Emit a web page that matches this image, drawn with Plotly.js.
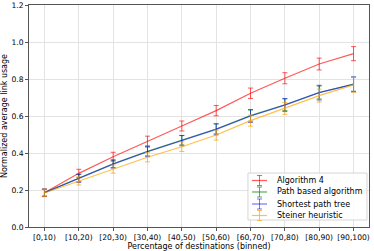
<!DOCTYPE html>
<html><head><meta charset="utf-8">
<script src="https://cdn.plot.ly/plotly-3.0.1.min.js"></script>
<style>html,body{margin:0;padding:0;background:#fff}</style>
</head><body><div id="chart" style="width:374px;height:251px"></div>
<script>
var categories = ["[0,10)","[10,20)","[20,30)","[30,40)","[40,50)","[50,60)","[60,70)","[70,80)","[80,90)","[90,100)"];
var seriesNames = ["Algorithm 4","Path based algorithm","Shortest path tree","Steiner heuristic"];
var alg4 = [0.185,0.29,0.38,0.465,0.546,0.629,0.723,0.804,0.881,0.937];
var alg4Err = [0.02,0.022,0.024,0.026,0.027,0.028,0.028,0.03,0.032,0.038];
var pathBased = [0.186,0.265,0.342,0.409,0.469,0.53,0.602,0.661,0.727,0.772];
var pathBasedErr = [0.018,0.02,0.02,0.024,0.025,0.027,0.03,0.032,0.035,0.038];
var spt = [0.185,0.263,0.34,0.407,0.467,0.528,0.60,0.659,0.726,0.771];
var sptErr = [0.02,0.022,0.022,0.027,0.028,0.03,0.035,0.035,0.04,0.04];
var steiner = [0.184,0.249,0.313,0.377,0.434,0.497,0.575,0.641,0.71,0.768];
var steinerErr = [0.02,0.022,0.022,0.025,0.026,0.027,0.03,0.032,0.035,0.04];

var colors = ['rgba(255,0,0,0.65)','rgba(0,128,0,0.65)','rgba(0,0,255,0.55)','rgba(255,165,0,0.7)'];
var ys = [alg4, pathBased, spt, steiner];
var es = [alg4Err, pathBasedErr, sptErr, steinerErr];

var data = ys.map(function(y, i){
  return {x: categories, y: y, name: seriesNames[i], type: 'scatter', mode: 'lines', showlegend: false,
    line: {color: colors[i], width: 1.2},
    error_y: {type: 'data', array: es[i], visible: true, color: colors[i], thickness: 1, width: 2.5}};
});

// custom legend (paper coords)
var shapes = [{type: 'rect', xref: 'paper', yref: 'paper', x0: 0.644, x1: 0.994, y0: 0.0315, y1: 0.243,
  line: {color: '#d5d5d5', width: 1}, fillcolor: 'rgba(255,255,255,0.85)', layer: 'above'}];
var annotations = [];
var rowY = [0.2095, 0.1577, 0.1036, 0.0518];
for (var i = 0; i < seriesNames.length; i++) {
  var yy = rowY[i];
  shapes.push({type: 'line', xref: 'paper', yref: 'paper', x0: 0.656, x1: 0.70, y0: yy, y1: yy, line: {color: colors[i], width: 1.2}, layer: 'above'});
  shapes.push({type: 'line', xref: 'paper', yref: 'paper', x0: 0.678, x1: 0.678, y0: yy - 0.0225, y1: yy + 0.0225, line: {color: colors[i], width: 1}, layer: 'above'});
  shapes.push({type: 'line', xref: 'paper', yref: 'paper', x0: 0.6706, x1: 0.6854, y0: yy - 0.0225, y1: yy - 0.0225, line: {color: colors[i], width: 1}, layer: 'above'});
  shapes.push({type: 'line', xref: 'paper', yref: 'paper', x0: 0.6706, x1: 0.6854, y0: yy + 0.0225, y1: yy + 0.0225, line: {color: colors[i], width: 1}, layer: 'above'});
  annotations.push({xref: 'paper', yref: 'paper', x: 0.7235, y: yy, xanchor: 'left', yanchor: 'middle',
    text: seriesNames[i], showarrow: false, font: {size: 8, color: '#000'}});
}

var layout = {
  width: 374, height: 251,
  margin: {l: 29, r: 5, t: 5, b: 24},
  paper_bgcolor: '#fff', plot_bgcolor: '#fff',
  font: {family: 'DejaVu Sans', size: 8, color: '#000'},
  showlegend: false,
  shapes: shapes, annotations: annotations,
  xaxis: {type: 'category', range: [-0.45, 9.45], showgrid: true, gridcolor: '#e3e3e3', gridwidth: 1,
    showline: true, linecolor: '#555', linewidth: 1, mirror: true,
    ticks: 'outside', ticklen: 3, tickcolor: '#555', tickfont: {size: 7.6},
    title: {text: 'Percentage of destinations (binned)', font: {size: 8}, standoff: 2}},
  yaxis: {range: [0, 1.2], tickvals: [0,0.2,0.4,0.6,0.8,1.0,1.2], ticktext: ['0.0','0.2','0.4','0.6','0.8','1.0','1.2'],
    showgrid: true, gridcolor: '#e3e3e3', gridwidth: 1, zeroline: false,
    showline: true, linecolor: '#555', linewidth: 1, mirror: true,
    ticks: 'outside', ticklen: 3, tickcolor: '#555', tickfont: {size: 7.6},
    title: {text: 'Normalized average link usage', font: {size: 8}, standoff: 2}}
};
Plotly.newPlot('chart', data, layout, {displayModeBar: false, staticPlot: true});
</script></body></html>
